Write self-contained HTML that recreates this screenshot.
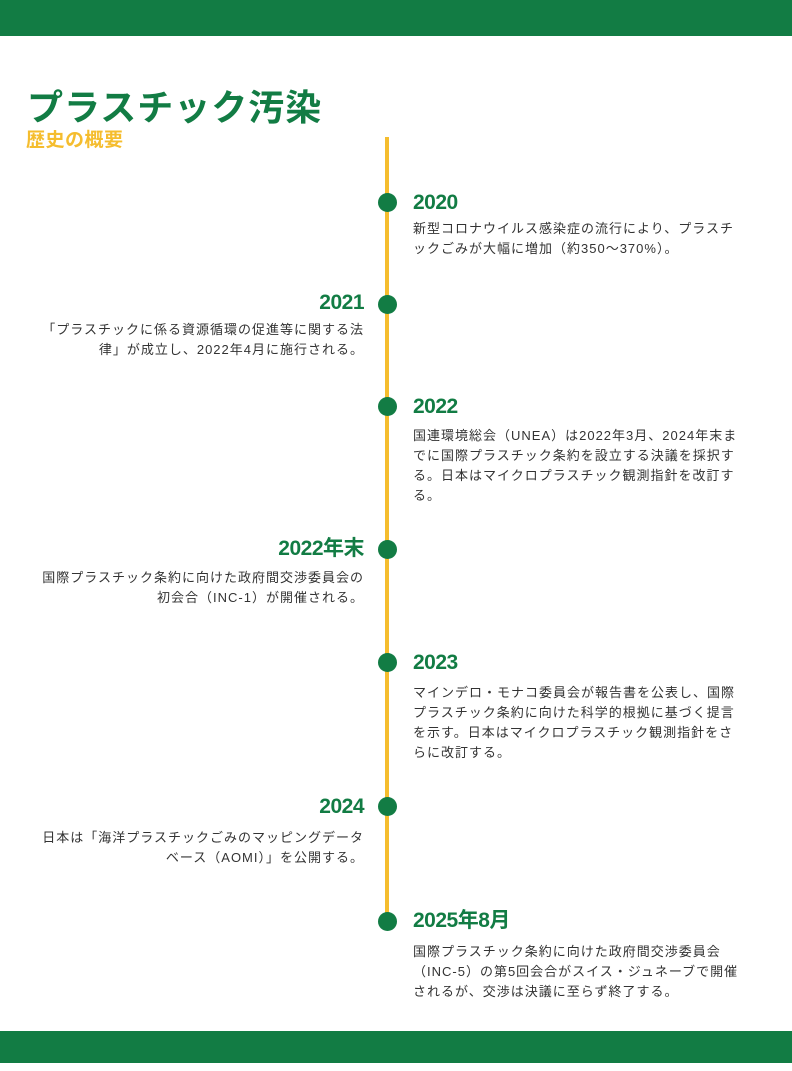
<!DOCTYPE html>
<html><head><meta charset="utf-8"><style>
body{margin:0;width:792px;height:1071px;position:relative;background:#fff;font-family:"Liberation Sans","Noto Sans CJK JP",sans-serif;overflow:hidden}
.bar{position:absolute;left:0;width:792px;background:#127c44}
.line{position:absolute;left:385px;top:137px;width:4px;height:785px;background:#f5bd2e}
.dot{position:absolute;left:378px;width:19px;height:19px;border-radius:50%;background:#127c44}
.y{position:absolute;font-weight:bold;font-size:21px;color:#127c44;line-height:24px;letter-spacing:-0.5px;white-space:nowrap}
.t{position:absolute;font-size:13px;line-height:20px;color:#333;letter-spacing:1px;white-space:nowrap}
.r{left:413px}
.l{right:428px;text-align:right}
</style></head><body>
<div class="bar" style="top:0;height:36px"></div>
<div class="bar" style="top:1031px;height:32px"></div>
<div style="position:absolute;left:27px;top:85px;font-size:36px;font-weight:bold;color:#127c44;line-height:46px;letter-spacing:1px">プラスチック汚染</div>
<div style="position:absolute;left:26px;top:128px;font-size:19px;font-weight:bold;color:#f5bd2e;line-height:26px;letter-spacing:0.5px">歴史の概要</div>
<div class="line"></div>
<div class="dot" style="top:193px"></div>
<div class="dot" style="top:295px"></div>
<div class="dot" style="top:397px"></div>
<div class="dot" style="top:540px"></div>
<div class="dot" style="top:653px"></div>
<div class="dot" style="top:797px"></div>
<div class="dot" style="top:912px"></div>

<div class="y r" style="top:191px">2020</div>
<div class="t r" style="top:219px">新型コロナウイルス感染症の流行により、プラスチ<br>ックごみが大幅に増加（約350〜370%）。</div>

<div class="y l" style="top:291px">2021</div>
<div class="t l" style="top:320px">「プラスチックに係る資源循環の促進等に関する法<br>律」が成立し、2022年4月に施行される。</div>

<div class="y r" style="top:395px">2022</div>
<div class="t r" style="top:426px">国連環境総会（UNEA）は2022年3月、2024年末ま<br>でに国際プラスチック条約を設立する決議を採択す<br>る。日本はマイクロプラスチック観測指針を改訂す<br>る。</div>

<div class="y l" style="top:537px">2022年末</div>
<div class="t l" style="top:568px">国際プラスチック条約に向けた政府間交渉委員会の<br>初会合（INC-1）が開催される。</div>

<div class="y r" style="top:651px">2023</div>
<div class="t r" style="top:683px">マインデロ・モナコ委員会が報告書を公表し、国際<br>プラスチック条約に向けた科学的根拠に基づく提言<br>を示す。日本はマイクロプラスチック観測指針をさ<br>らに改訂する。</div>

<div class="y l" style="top:795px">2024</div>
<div class="t l" style="top:828px">日本は「海洋プラスチックごみのマッピングデータ<br>ベース（AOMI）」を公開する。</div>

<div class="y r" style="top:909px">2025年8月</div>
<div class="t r" style="top:942px">国際プラスチック条約に向けた政府間交渉委員会<br>（INC-5）の第5回会合がスイス・ジュネーブで開催<br>されるが、交渉は決議に至らず終了する。</div>
</body></html>
